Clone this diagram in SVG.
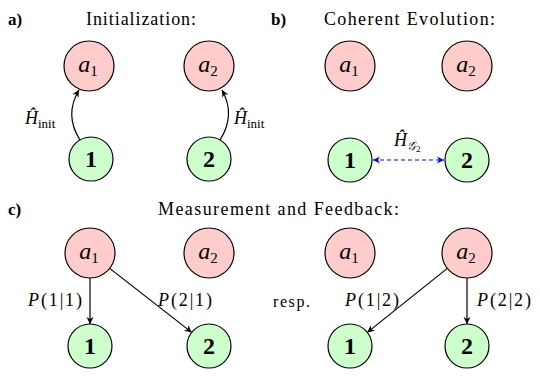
<svg xmlns="http://www.w3.org/2000/svg" width="540" height="383" viewBox="0 0 540 383">
<style>
  .bg{fill:#ffffff}
  .red{fill:#ffcccc;stroke:#000;stroke-width:1.2}
  .green{fill:#ccffcc;stroke:#000;stroke-width:1.2}
  .t{font-family:"Times New Roman","Liberation Serif",Tinos,"DejaVu Serif","Noto Serif",Times,serif;fill:#000}
  .title{font-size:18px}
  .panel{font-size:17px;font-weight:bold}
  .am{font-size:24px;font-style:italic;text-anchor:middle}
  .sub{font-size:15px;font-style:normal}
  .num{font-size:24px;font-weight:bold;text-anchor:middle}
  .lab{font-size:18px}
  .edge{fill:none;stroke:#000;stroke-width:1.2}
  .dash{fill:none;stroke:#0000ff;stroke-width:1.2;stroke-dasharray:4 3}
</style>
<defs>
  <marker id="arr" viewBox="-8 -5 10 10" refX="0" refY="0" markerWidth="10" markerHeight="10" markerUnits="userSpaceOnUse" orient="auto-start-reverse">
    <path d="M0,0 L-7,-3.5 L-5,0 L-7,3.5 Z" fill="#000"/>
  </marker>
  <marker id="arrb" viewBox="-8 -5 10 10" refX="0" refY="0" markerWidth="10" markerHeight="10" markerUnits="userSpaceOnUse" orient="auto-start-reverse">
    <path d="M0,0 L-7,-3.5 L-5,0 L-7,3.5 Z" fill="#0000ff"/>
  </marker>
</defs>
<rect class="bg" x="0" y="0" width="540" height="383"/>

<g id="titles">
  <text class="t panel" x="8" y="25">a)</text>
  <text class="t title" x="86" y="25" textLength="110">Initialization:</text>
  <text class="t panel" x="271" y="25">b)</text>
  <text class="t title" x="324" y="25" textLength="171">Coherent Evolution:</text>
  <text class="t panel" x="8" y="215">c)</text>
  <text class="t title" x="158" y="215" textLength="241">Measurement and Feedback:</text>
  <text class="t lab" x="273" y="307" textLength="37" style="font-size:16px">resp.</text>
</g>

<!-- Panel a -->
<g id="a_a1"><circle class="red" cx="89" cy="66" r="25"/><text class="t am" x="88" y="72">a<tspan class="sub" dy="4">1</tspan></text></g>
<g id="a_a2"><circle class="red" cx="209" cy="66" r="25"/><text class="t am" x="208" y="72">a<tspan class="sub" dy="4">2</tspan></text></g>
<g id="a_n1"><circle class="green" cx="91" cy="159" r="22"/><text class="t num" x="91" y="167">1</text></g>
<g id="a_n2"><circle class="green" cx="209" cy="159" r="22"/><text class="t num" x="209" y="167">2</text></g>

<!-- Panel b -->
<g id="b_a1"><circle class="red" cx="350" cy="66" r="25"/><text class="t am" x="349" y="72">a<tspan class="sub" dy="4">1</tspan></text></g>
<g id="b_a2"><circle class="red" cx="467" cy="66" r="25"/><text class="t am" x="466" y="72">a<tspan class="sub" dy="4">2</tspan></text></g>
<g id="b_n1"><circle class="green" cx="350" cy="160" r="22"/><text class="t num" x="350" y="168">1</text></g>
<g id="b_n2"><circle class="green" cx="467" cy="160" r="22"/><text class="t num" x="467" y="168">2</text></g>

<!-- Panel c left -->
<g id="c_a1"><circle class="red" cx="90" cy="253" r="25"/><text class="t am" x="89" y="259">a<tspan class="sub" dy="4">1</tspan></text></g>
<g id="c_a2"><circle class="red" cx="209" cy="253" r="25"/><text class="t am" x="208" y="259">a<tspan class="sub" dy="4">2</tspan></text></g>
<g id="c_n1"><circle class="green" cx="90" cy="346" r="22"/><text class="t num" x="90" y="354">1</text></g>
<g id="c_n2"><circle class="green" cx="209" cy="346" r="22"/><text class="t num" x="209" y="354">2</text></g>

<!-- Panel c right -->
<g id="c_a1r"><circle class="red" cx="350" cy="253" r="25"/><text class="t am" x="349" y="259">a<tspan class="sub" dy="4">1</tspan></text></g>
<g id="c_a2r"><circle class="red" cx="467" cy="253" r="25"/><text class="t am" x="466" y="259">a<tspan class="sub" dy="4">2</tspan></text></g>
<g id="c_n1r"><circle class="green" cx="350" cy="346" r="22"/><text class="t num" x="350" y="354">1</text></g>
<g id="c_n2r"><circle class="green" cx="467" cy="346" r="22"/><text class="t num" x="467" y="354">2</text></g>

<g id="connectors">
  <path class="edge" d="M80,140 Q64,115 79,90" marker-end="url(#arr)"/>
  <path class="edge" d="M220,140 Q236,115 222,90" marker-end="url(#arr)"/>
  <path class="dash" d="M373,160 L444,160" marker-start="url(#arrb)" marker-end="url(#arrb)"/>
  <path class="edge" d="M90,278 L90,324" marker-end="url(#arr)"/>
  <path class="edge" d="M109.7,268.4 L191.7,332.4" marker-end="url(#arr)"/>
  <path class="edge" d="M447.3,268.4 L367.3,332.4" marker-end="url(#arr)"/>
  <path class="edge" d="M467,278 L467,324" marker-end="url(#arr)"/>
</g>

<g id="edge_labels">
  <text class="t lab" x="25" y="124"><tspan font-style="italic">Ĥ</tspan><tspan font-size="13" dy="4">init</tspan></text>
  <text class="t lab" x="234" y="124"><tspan font-style="italic">Ĥ</tspan><tspan font-size="13" dy="4">init</tspan></text>
  <text class="t lab" x="394" y="146"><tspan font-style="italic">Ĥ</tspan><tspan font-size="12" font-style="italic" dy="4">𝒢</tspan><tspan font-size="9" dy="2">2</tspan></text>
  <text class="t lab" x="28" y="306" textLength="54"><tspan font-style="italic">P</tspan>(1|1)</text>
  <text class="t lab" x="158" y="306" textLength="54"><tspan font-style="italic">P</tspan>(2|1)</text>
  <text class="t lab" x="345" y="306" textLength="54"><tspan font-style="italic">P</tspan>(1|2)</text>
  <text class="t lab" x="477" y="306" textLength="54"><tspan font-style="italic">P</tspan>(2|2)</text>
</g>
</svg>
